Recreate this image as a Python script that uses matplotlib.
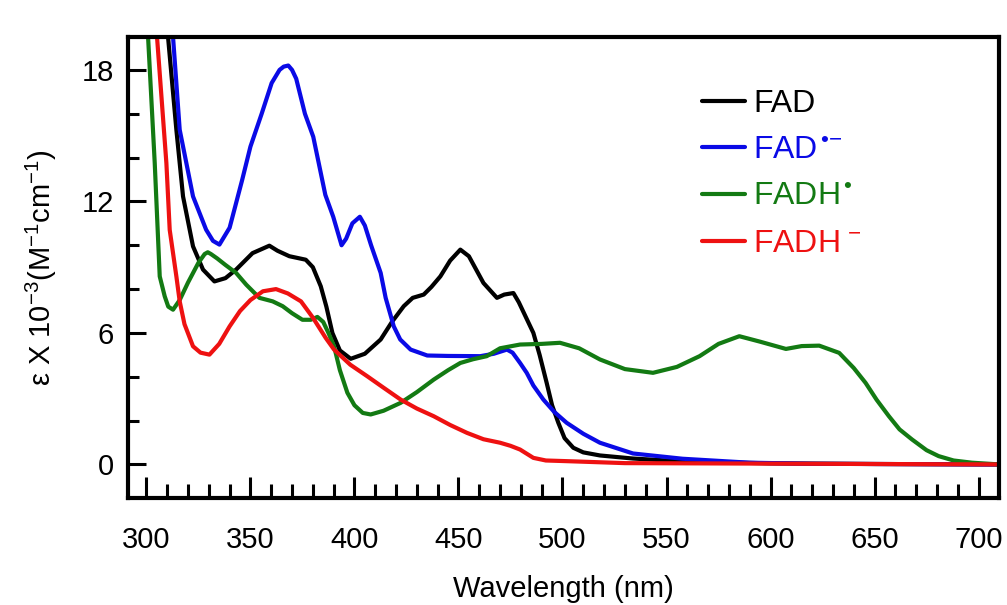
import matplotlib
matplotlib.use("Agg")
import matplotlib.pyplot as plt
from matplotlib.ticker import MultipleLocator

plt.rcParams["font.family"] = ["Liberation Sans", "DejaVu Sans"]
plt.rcParams["mathtext.fontset"] = "custom"
plt.rcParams["mathtext.rm"] = "Liberation Sans"
plt.rcParams["mathtext.it"] = "Liberation Sans"
plt.rcParams["mathtext.bf"] = "Liberation Sans"

# 数据：波长 (nm) 和 ε×10^-3 (M^-1 cm^-1)
fad_wl = [308, 310.4, 314.4, 317.6, 322.4, 327.2, 332.7, 338, 343.1, 351, 359.1, 363, 368.7,
          376.6, 380, 383.8, 386.5, 389.4, 393, 398.2, 405, 412.6, 418, 423.7, 428,
          433.3, 437, 441.3, 446, 450.9, 455, 462, 468.5, 472, 476.4, 479, 483, 486,
          489, 492.4, 495, 498, 501, 505.2, 510, 518, 533.8, 550, 575, 600, 650, 710]
fad_eps = [22, 19.5, 15.27, 12.23, 9.95, 8.89, 8.35, 8.5, 8.89, 9.64, 9.98, 9.75, 9.5,
           9.34, 9.0, 8.13, 7.2, 6.0, 5.2, 4.82, 5.05, 5.70, 6.5, 7.22, 7.6,
           7.75, 8.1, 8.58, 9.3, 9.80, 9.5, 8.28, 7.6, 7.75, 7.82, 7.4, 6.6, 6.0,
           5.0, 3.72, 2.7, 1.9, 1.2, 0.76, 0.55, 0.41, 0.27, 0.18, 0.1, 0.05, 0.02, 0.0]

fadsq_wl = [311, 312.8, 316, 322.4, 328.7, 332, 335.1, 340, 346, 350, 355.4, 360.2, 364,
            366, 368.2, 370, 372, 376.2, 380.2, 386, 389.8, 393.8, 396, 399, 402.6, 405, 408,
            412.6, 415, 418.9, 422, 427, 435, 445, 460.5, 467, 473.3, 476, 479.6,
            482.8, 486, 490.8, 496, 502, 510, 518, 533.9, 557.7, 589.8, 620, 710]
fadsq_eps = [22, 19.5, 15.27, 12.23, 10.71, 10.2, 10.03, 10.8, 12.97, 14.5, 16.0, 17.4, 18.0,
             18.15, 18.2, 18.0, 17.6, 16.0, 14.95, 12.3, 11.3, 10.0, 10.3, 11.0, 11.3, 10.9, 10.0,
             8.74, 7.6, 6.30, 5.7, 5.24, 4.97, 4.95, 4.94, 5.05, 5.24, 5.1, 4.63,
             4.18, 3.6, 2.96, 2.4, 1.9, 1.4, 0.99, 0.5, 0.26, 0.08, 0.03, 0.0]

fadh_wl = [300.3, 300.8, 304, 306.4, 308.8, 310.5, 312.8, 316, 320, 325, 328, 329.5, 331, 334, 338,
           343.1, 348, 354.3, 360.7, 365.5, 370, 375, 379, 382.2, 385, 387.5, 390.2,
           393, 396.6, 400, 404, 407.8, 414, 422.2, 430, 438.1, 445, 450.9, 457,
           463.6, 470, 479.6, 490, 498.8, 508, 518, 530, 543.5, 555, 565.9, 575,
           585, 595, 607.4, 615, 623.4, 633, 640, 645.7, 651, 656.9, 662, 668, 675,
           680.8, 688, 696.8, 710]
fadh_eps = [22, 19.5, 13.75, 8.58, 7.67, 7.2, 7.06, 7.5, 8.3, 9.2, 9.6, 9.68, 9.6, 9.4, 9.1,
            8.74, 8.2, 7.6, 7.44, 7.22, 6.9, 6.6, 6.6, 6.73, 6.5, 6.0, 5.39,
            4.3, 3.27, 2.7, 2.35, 2.28, 2.45, 2.81, 3.3, 3.87, 4.3, 4.63, 4.8,
            4.94, 5.3, 5.47, 5.5, 5.55, 5.3, 4.79, 4.35, 4.18, 4.45, 4.94, 5.5,
            5.85, 5.6, 5.27, 5.4, 5.42, 5.09, 4.4, 3.72, 2.95, 2.2, 1.6, 1.14, 0.65,
            0.38, 0.18, 0.08, 0.0]

fadhm_wl = [304.5, 305.1, 309.6, 311.2, 314.4, 316, 318.3, 322.4, 326, 330.3, 335, 340,
            345, 350, 356, 362.3, 368, 374.3, 380, 386.2, 390.2, 398, 406.2, 414,
            422.2, 430, 438.1, 446, 454.1, 462, 470, 475, 479.6, 486, 492, 502, 530, 710]
fadhm_eps = [22, 19.5, 13.75, 10.7, 8.58, 7.44, 6.4, 5.39, 5.1, 5.01, 5.5, 6.3,
             7.0, 7.5, 7.9, 8.0, 7.8, 7.44, 6.7, 5.77, 5.24, 4.55, 4.02, 3.5,
             2.96, 2.55, 2.20, 1.8, 1.44, 1.15, 0.99, 0.85, 0.68, 0.3, 0.18, 0.15, 0.06, 0.0]

labels = ["FAD", "FAD$^{\\,•\\!−}$", "FADH$^{\\,•}$", "FADH$^{\\,−}$"]
colors = ["#000000", "#0a0ae6", "#137a13", "#ee1111"]

fig = plt.figure(figsize=(10.07, 6.05), dpi=100)
ax = fig.add_axes([0.1268, 0.1769, 0.8648, 0.7619])

series = [(fad_wl, fad_eps), (fadsq_wl, fadsq_eps), (fadh_wl, fadh_eps), (fadhm_wl, fadhm_eps)]
for (wl, eps), lab, col in zip(series, labels, colors):
    ax.plot(wl, eps, "-", lw=3.0, color=col, label=lab,
            solid_capstyle="round", solid_joinstyle="round")

ax.set_xlim(291, 709.6)
ax.set_ylim(-1.53, 19.5)

ax.xaxis.set_major_locator(MultipleLocator(50))
ax.xaxis.set_minor_locator(MultipleLocator(10))
ax.yaxis.set_major_locator(MultipleLocator(6))
ax.yaxis.set_minor_locator(MultipleLocator(2))
ax.tick_params(axis="x", which="major", direction="in", length=15, width=2.2,
               labelsize=21, pad=20, top=False)
ax.tick_params(axis="x", which="minor", direction="in", length=10, width=2.2, top=False)
ax.tick_params(axis="y", which="major", direction="in", length=13, width=2.2,
               labelsize=21, pad=10, right=False)
ax.tick_params(axis="y", which="minor", direction="in", length=8, width=2.2, right=False)
for sp in ax.spines.values():
    sp.set_linewidth(3.0)

ax.set_ylabel("ε X 10$^{\\mathrm{-3}}$(M$^{\\mathrm{-1}}$cm$^{\\mathrm{-1}}$)", fontsize=21, labelpad=16)
ax.set_xlabel("Wavelength (nm)", fontsize=21, labelpad=15)

leg = ax.legend(loc="upper left", bbox_to_anchor=(0.645, 0.915), frameon=False,
                fontsize=23, handlelength=1.35, handletextpad=0.25, labelspacing=0.52,
                borderaxespad=0)
for t, c in zip(leg.get_texts(), colors):
    t.set_color(c)
for h in leg.get_lines():
    h.set_linewidth(3.0)

fig.savefig("out.png", dpi=100)
